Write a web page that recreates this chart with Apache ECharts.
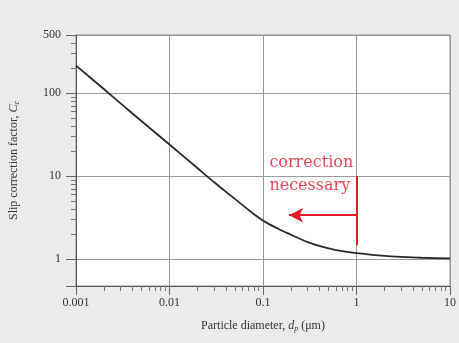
<!DOCTYPE html>
<html>
<head>
<meta charset="utf-8">
<script src="https://cdn.jsdelivr.net/npm/echarts@6/dist/echarts.min.js"></script>
<style>
html,body{margin:0;padding:0;background:#ebebeb;}
#c{width:459px;height:343px;}
</style>
</head>
<body>
<div id="c"></div>
<script>
// Data
const diameters = [0.001, 0.002, 0.003, 0.005, 0.01, 0.02, 0.03, 0.05, 0.07, 0.1, 0.15, 0.2, 0.3, 0.5, 0.7, 1, 2, 3, 5, 10];
const slipFactor = [214, 111, 75, 46, 24, 12.4, 8.4, 5.3, 3.9, 2.9, 2.27, 1.96, 1.6, 1.34, 1.245, 1.18, 1.09, 1.06, 1.035, 1.02];
const xTickLabels = ['0.001', '0.01', '0.1', '1', '10'];
const yTickLabels = ['1', '10', '100', '500'];
const xMinorTicks = [0.002,0.003,0.004,0.005,0.006,0.007,0.008,0.009,0.02,0.03,0.04,0.05,0.06,0.07,0.08,0.09,0.2,0.3,0.4,0.5,0.6,0.7,0.8,0.9,2,3,4,5,6,7,8,9];
const yMinorTicks = [2,3,4,5,6,7,8,9,20,30,40,50,60,70,80,90,200,300,400];
const arrowY = 3.37, arrowTipX = 0.19;
const barTopY = 10, barBottomY = 1.47;
const noteText = ['correction', 'necessary'];
const notePos = [0.117, 10];

const serif = '"Liberation Serif", "DejaVu Serif", serif';
function fmtLabel(list){
  return function(v){
    for (const s of list){ const n = parseFloat(s); if (Math.abs(v-n)/n < 1e-3) return s; }
    return '';
  };
}
const chart = echarts.init(document.getElementById('c'));
chart.setOption({
  backgroundColor: '#ebebeb',
  animation: false,
  grid: {left: 73, right: 8, top: 35, bottom: 57, show: true, backgroundColor: '#ffffff', borderColor: '#888', borderWidth: 1},
  xAxis: [{
    type: 'log', logBase: 10, min: 0.001, max: 10,
    axisLine: {show: true, lineStyle: {color: '#555', width: 1}},
    axisTick: {show: true, length: 9, lineStyle: {color: '#666'}},
    splitLine: {show: true, lineStyle: {color: '#999', width: 1}},
    axisLabel: {formatter: fmtLabel(xTickLabels), color: '#333', fontFamily: serif, fontSize: 12, margin: 11},
    name: '{t|Particle diameter, }{i|d}{s|p}{t| (μm)}',
    nameLocation: 'middle', nameGap: 33,
    nameTextStyle: {rich: {
      t: {fontFamily: serif, fontSize: 12, color: '#333'},
      i: {fontFamily: serif, fontSize: 12, fontStyle: 'italic', color: '#333'},
      s: {fontFamily: serif, fontSize: 8, fontStyle: 'italic', color: '#333', verticalAlign: 'bottom', padding: [6,0,0,0]}
    }}
  }, {
    type: 'log', logBase: 10, min: 0.001, max: 10, position: 'bottom',
    axisLine: {show: false},
    axisTick: {show: true, length: 5, customValues: xMinorTicks, lineStyle: {color: '#777'}},
    axisLabel: {show: false}, splitLine: {show: false}
  }],
  yAxis: [{
    type: 'log', logBase: 10, min: 0.473, max: 500,
    axisLine: {show: true, lineStyle: {color: '#555', width: 1}},
    axisTick: {show: true, length: 10, lineStyle: {color: '#666'}},
    splitLine: {show: true, lineStyle: {color: '#999', width: 1}},
    axisLabel: {formatter: fmtLabel(yTickLabels), color: '#333', fontFamily: serif, fontSize: 12, margin: 15},
    name: '{t|Slip correction factor, }{i|C}{s|c}',
    nameLocation: 'middle', nameGap: 55,
    nameTextStyle: {rich: {
      t: {fontFamily: serif, fontSize: 12, color: '#333'},
      i: {fontFamily: serif, fontSize: 12, fontStyle: 'italic', color: '#333'},
      s: {fontFamily: serif, fontSize: 8, fontStyle: 'italic', color: '#333', verticalAlign: 'bottom', padding: [6,0,0,0]}
    }}
  }, {
    type: 'log', logBase: 10, min: 0.473, max: 500, position: 'left',
    axisLine: {show: false},
    axisTick: {show: true, length: 5, customValues: yMinorTicks, lineStyle: {color: '#777'}},
    axisLabel: {show: false}, splitLine: {show: false}
  }],
  series: [{
    type: 'line', xAxisIndex: 0, yAxisIndex: 0,
    data: diameters.map((d, i) => [d, slipFactor[i]]),
    smooth: 0.3, showSymbol: false,
    lineStyle: {color: '#2a2a2a', width: 1.8}
  }, {
    type: 'line', xAxisIndex: 0, yAxisIndex: 0, data: [],
    markLine: {
      silent: true, animation: false,
      label: {show: false},
      lineStyle: {color: '#e8182f', width: 2, type: 'solid'},
      data: [
        [{coord: [1, barTopY], symbol: 'none'}, {coord: [1, barBottomY], symbol: 'none'}],
        [{coord: [1, arrowY], symbol: 'none'}, {coord: [arrowTipX, arrowY], symbol: 'arrow', symbolSize: [11, 14]}]
      ]
    }
  }, {
    type: 'scatter', xAxisIndex: 0, yAxisIndex: 0, symbolSize: 0,
    data: [notePos],
    label: {show: true, position: 'inside', formatter: noteText.join('\n'),
      color: '#e8182f', fontFamily: '"DejaVu Serif", serif', fontSize: 16, lineHeight: 23,
      align: 'left', verticalAlign: 'middle', offset: [0, -2]}
  }]
});
</script>
</body>
</html>
